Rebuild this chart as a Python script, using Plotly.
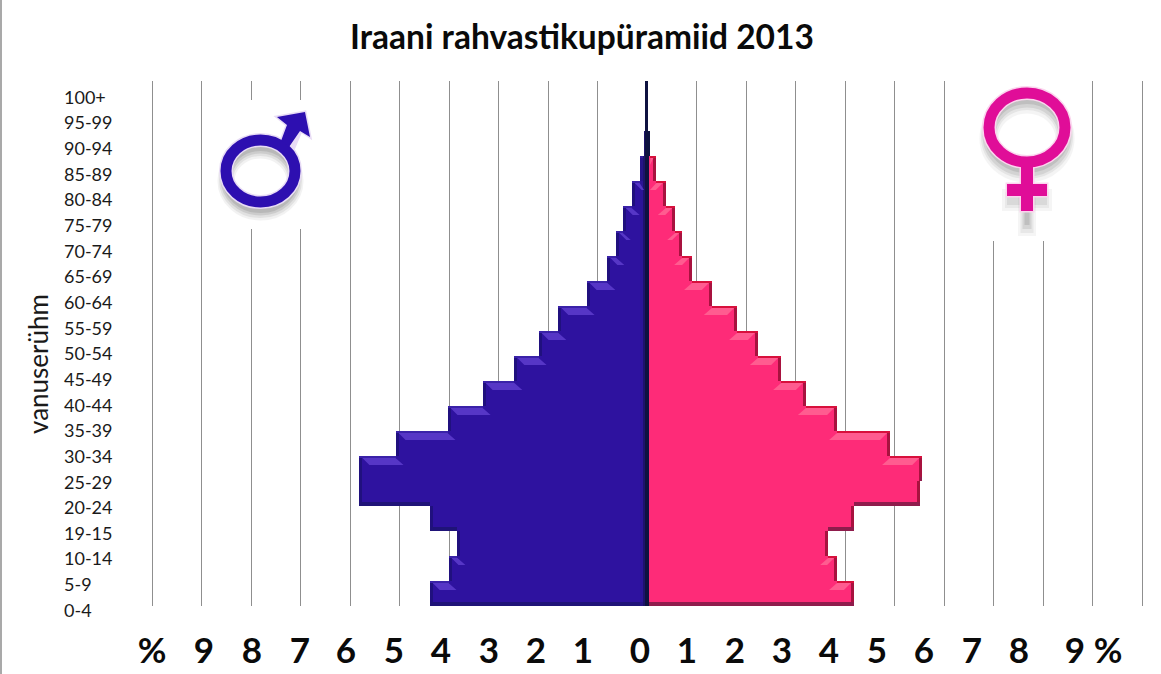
import plotly.graph_objects as go

# ---------- data ----------
age_groups = ["0-4","5-9","10-14","19-15","20-24","25-29","30-34","35-39","40-44","45-49","50-54",
              "55-59","60-64","65-69","70-74","75-79","80-84","85-89","90-94","95-99","100+"]
male = [4.39,4.01,3.83,4.39,5.81,5.81,5.08,4.03,3.32,2.68,2.19,1.79,1.22,0.80,0.62,0.49,0.31,0.15,0.06,0.04,0.04]
female = [4.18,3.84,3.66,4.18,5.51,5.56,4.91,3.84,3.21,2.71,2.24,1.82,1.31,0.91,0.71,0.57,0.38,0.19,0.07,0.02,0.02]
x_tick_labels = ["%","9","8","7","6","5","4","3","2","1","0","1","2","3","4","5","6","7","8","9","%"]
title_text = "Iraani rahvastikupüramiid 2013"
y_title = "vanuserühm"

# ---------- layout constants ----------
W, H = 1161, 674
PX_X0, PX_X1 = 152, 1142
PX_Y0, PX_Y1 = 606, 81
UX = (PX_X1 - PX_X0) / 20.0
UY = (PX_Y0 - PX_Y1) / 21.0
PAD = 2 / UX
x_tick_px = [152,204,252,300,346,394,441,489,536,583,640,687,735,782,829,877,924,972,1019,1075,1108]
FONT = "Lato"

def fx(p): return p / W
def fy(p): return 1 - p / H

fig = go.Figure()

def strips(sign, starts, ends, ys, hs, color):
    """Horizontal rectangles in data units (value axis, row axis)."""
    fig.add_trace(go.Bar(orientation="h", x=[sign * (e - s) for s, e in zip(starts, ends)],
                         base=[sign * s for s in starts], y=ys, width=hs,
                         marker=dict(color=color, line=dict(width=0)),
                         hoverinfo="skip", showlegend=False))

def side(values, sign, main, edge, bottom, top_edge, light):
    n = len(values)
    rows = list(range(n))
    fig.add_trace(go.Bar(orientation="h", x=[sign * v for v in values], y=rows, width=[1.0] * n,
                         marker=dict(color=main, line=dict(width=0)), showlegend=False,
                         name="mehed" if sign < 0 else "naised"))
    d = 3.0 / UX
    strips(sign, [max(v - d, 0) for v in values], values, rows, [1.0] * n, edge)
    bs, be, by = [], [], []
    ts, te, ty = [], [], []
    px_, py_ = [], []
    hb = 4.0 / UY
    ht = 2.0 / UY
    for i, v in enumerate(values):
        below = values[i - 1] if i > 0 else 0
        above = values[i + 1] if i < n - 1 else 0
        if v > below:
            bs.append(below); be.append(v); by.append(i - 0.5 + hb / 2)
        if v > above:
            ts.append(above); te.append(v); ty.append(i + 0.5 - ht / 2)
            if v - above > 5 / UX:
                top = i + 0.5 - ht
                low = top - 7.0 / UY
                px_ += [sign * (v - 3 / UX), sign * above, sign * max(above - 8 / UX, 0.06),
                        sign * max(v - 10 / UX, 0.06), sign * (v - 3 / UX), None]
                py_ += [top, top, low, low, top, None]
    strips(sign, bs, be, by, [hb] * len(by), bottom)
    strips(sign, ts, te, ty, [ht] * len(ty), top_edge)
    fig.add_trace(go.Scatter(x=px_, y=py_, mode="lines", fill="toself", fillcolor=light,
                             line=dict(width=0, color=light), hoverinfo="skip", showlegend=False))

side(male, -1, "#2e129f", "#20107e", "#1f1378", "#3a22a8", "#5636c6")
side(female, 1, "#fe2b78", "#a8123f", "#8f1c4c", "#d8103c", "#ff5c90")

# dark seam along the centre of the pyramid
rows = list(range(len(male)))
for w_px, col, op in [(7, "#2a1590", 0.55), (4, "#1a1260", 0.8), (2.5, "#0e1240", 1)]:
    fig.add_trace(go.Bar(orientation="h", x=[-min(w_px / UX, m) for m in male], y=rows, width=[1.0] * len(rows),
                         base=[0] * len(rows), marker=dict(color=col, opacity=op, line=dict(width=0)),
                         hoverinfo="skip", showlegend=False))
fig.add_trace(go.Bar(orientation="h", x=[f if f < 0.1 else 1.5 / UX for f in female], y=rows,
                     width=[1.0] * len(rows), base=[0] * len(rows),
                     marker=dict(color="#0e1240", line=dict(width=0)), hoverinfo="skip", showlegend=False))

# axis carriers for the two independently placed tick scales
fig.add_trace(go.Scatter(x=x_tick_px, y=[age_groups[0]] * len(x_tick_px), xaxis="x2", yaxis="y2", mode="markers",
                         marker=dict(size=1, opacity=0), hoverinfo="skip", showlegend=False))
fig.add_trace(go.Scatter(x=[0] * len(age_groups), y=age_groups, xaxis="x2", yaxis="y2", mode="markers",
                         marker=dict(size=1, opacity=0), hoverinfo="skip", showlegend=False))

# ---------- decorative symbols ----------
shapes = []
def P(x, y): return f"{fx(x):.5f},{fy(y):.5f}"
def poly(points): return "M " + " L ".join(P(*p) for p in points) + " Z"
def rect(x0, y0, x1, y1, fill, opacity=1):
    shapes.append(dict(type="rect", xref="paper", yref="paper", x0=fx(x0), x1=fx(x1), y0=fy(y0), y1=fy(y1),
                       fillcolor=fill, opacity=opacity, line=dict(width=0), layer="above"))
def ring(x0, y0, x1, y1, color, width, opacity=1):
    shapes.append(dict(type="circle", xref="paper", yref="paper", x0=fx(x0), x1=fx(x1), y0=fy(y0), y1=fy(y1),
                       line=dict(color=color, width=width), opacity=opacity, layer="above"))
def path(points, fill, opacity=1, line=None, lw=0):
    shapes.append(dict(type="path", xref="paper", yref="paper", path=poly(points), fillcolor=fill,
                       opacity=opacity, line=dict(width=lw, color=line or fill), layer="above"))

# panels that interrupt the gridlines
rect(208, 100, 318, 229, "#ffffff")
rect(973, 72, 1078, 241, "#ffffff")

# male
MBLUE = "#2d0fb0"
for dy, w, op in [(10, 17, .07), (9, 14, .10), (8, 11, .14), (7, 8, .16)]:
    ring(226, 140 + dy, 295, 202 + dy, "#555555", w, op)
ring(226, 140, 295, 202, "#e8dcf5", 14)
path([(281, 141), (293, 150), (301, 131), (310, 137), (305, 112), (277, 117), (287, 125)], "#e8dcf5", 1, "#e8dcf5", 3)
ring(226, 140, 295, 202, MBLUE, 11)
path([(281, 141), (289, 147), (300, 131), (310, 137), (305, 112), (277, 117), (287, 125)], MBLUE)

# female
FPINK = "#e00d98"
for dy, w, op in [(11, 19, .06), (9, 16, .09), (8, 13, .12), (6, 10, .15)]:
    ring(989, 93 + dy, 1065, 162 + dy, "#555555", w, op)
for y_end, w, op in [(236, 18, .05), (233, 13, .08), (229, 9, .12), (225, 5, .16)]:
    shapes.append(dict(type="line", xref="paper", yref="paper", x0=fx(1027), x1=fx(1027), y0=fy(190), y1=fy(y_end),
                       line=dict(color="#555555", width=w), opacity=op, layer="above"))
for half, w, op in [(25, 22, .05), (22, 16, .07), (20, 10, .10)]:
    shapes.append(dict(type="line", xref="paper", yref="paper", x0=fx(1027 - half), x1=fx(1027 + half), y0=fy(200), y1=fy(200),
                       line=dict(color="#555555", width=w), opacity=op, layer="above"))
ring(989, 93, 1065, 162, "#fbd5ee", 14)
path([(1021, 168), (1033, 168), (1033, 184), (1047, 184), (1047, 196), (1033, 196), (1033, 211), (1021, 211),
      (1021, 196), (1007, 196), (1007, 184), (1021, 184)], "#fbd5ee", 1, "#fbd5ee", 3)
ring(989, 93, 1065, 162, FPINK, 11)
path([(1021, 166), (1033, 166), (1033, 184), (1047, 184), (1047, 196), (1033, 196), (1033, 211), (1021, 211),
      (1021, 196), (1007, 196), (1007, 184), (1021, 184)], FPINK)

# outer frame line at the left
shapes.append(dict(type="line", xref="paper", yref="paper", x0=fx(1), x1=fx(1), y0=0, y1=1,
                   line=dict(color="#8c8c8c", width=1.5), layer="above"))

fig.update_layout(
    width=W, height=H, margin=dict(l=0, r=0, t=0, b=0), autosize=False,
    paper_bgcolor="#ffffff", plot_bgcolor="rgba(0,0,0,0)", showlegend=False,
    barmode="overlay", bargap=0,
    title=dict(text=f"<b>{title_text}</b>", x=fx(582), xanchor="center", y=fy(37), yanchor="middle",
               font=dict(family=FONT, size=33.5, color="#0a0a0a")),
    xaxis=dict(domain=[fx(PX_X0 - 2), fx(PX_X1 + 2)], range=[-10 - PAD, 10 + PAD], tick0=0, dtick=1, showgrid=True,
               gridcolor="#8f8f8f", gridwidth=1, zeroline=False, showticklabels=False, ticks="", showline=False,
               anchor="y"),
    yaxis=dict(domain=[fy(PX_Y0), fy(PX_Y1)], range=[-0.5, 20.5], showgrid=False, zeroline=False,
               showticklabels=False, ticks="", showline=False, anchor="x"),
    xaxis2=dict(domain=[0, 1], range=[0, W], anchor="free", position=fy(627), side="bottom",
                tickmode="array", tickvals=x_tick_px, ticktext=x_tick_labels, ticks="", showgrid=False,
                zeroline=False, showline=False,
                tickfont=dict(family=FONT, size=35, color="#0a0a0a", weight=700)),
    yaxis2=dict(domain=[fy(623.3), fy(84.7)], range=[-0.5, 20.5], type="category", categoryorder="array",
                categoryarray=age_groups, anchor="free", position=fx(63), side="right",
                tickmode="array", tickvals=age_groups, ticktext=age_groups, ticks="", showgrid=False,
                zeroline=False, showline=False, tickfont=dict(family=FONT, size=18, color="#1a1a1a")),
    shapes=shapes,
    annotations=[dict(text=y_title, xref="paper", yref="paper", x=fx(38), y=fy(364), showarrow=False,
                      textangle=-90, xanchor="center", yanchor="middle",
                      font=dict(family=FONT, size=26, color="#1a1a1a"))],
)

fig.write_html("out.html", post_script="document.body.style.margin='0';", config={"displayModeBar": False})
